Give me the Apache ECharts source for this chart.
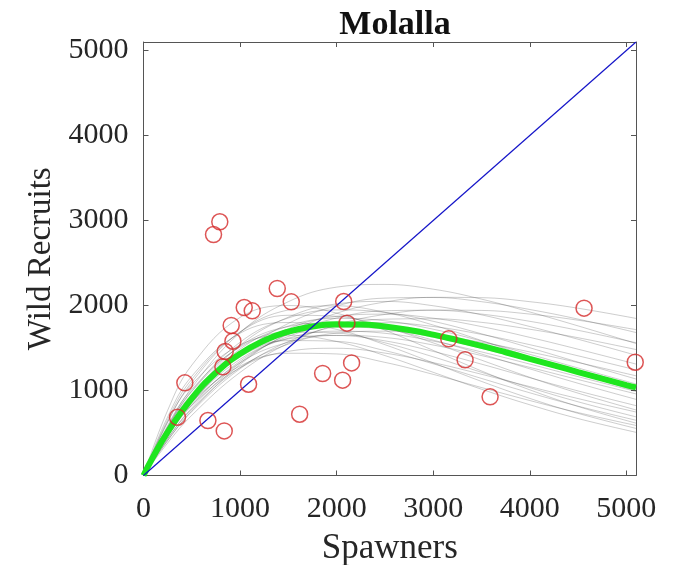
<!DOCTYPE html>
<html>
<head>
<meta charset="utf-8">
<title>Molalla</title>
<script src="https://cdn.jsdelivr.net/npm/echarts@6/dist/echarts.min.js"></script>
<style>
  html, body { margin: 0; padding: 0; background: #fff; }
  #chart { width: 680px; height: 565px; }
</style>
</head>
<body>
<div id="chart"></div>
<script>
// Observed spawner / wild recruit pairs
const spawners = [790, 725, 1385, 1530, 1043, 1126, 2073, 2107, 908, 926, 846, 822, 428, 1088,
  2155, 1855, 2062, 352, 667, 836, 1617, 4562, 3161, 3330, 3589, 5092];
const recruits = [2985, 2835, 2200, 2043, 1976, 1937, 2047, 1792, 1765, 1580, 1459, 1279, 1090, 1074,
  1325, 1200, 1122, 686, 647, 525, 721, 1969, 1608, 1361, 926, 1333];

// Best-fit stock-recruit curve
const fitS = [0, 100, 250, 500, 750, 1000, 1250, 1500, 1750, 2000, 2250, 2500, 2750, 3000,
  3250, 3500, 3750, 4000, 4250, 4500, 4750, 5000, 5100];
const fitR = [0, 220, 511, 908, 1209, 1431, 1588, 1693, 1753, 1778, 1777, 1752, 1711, 1657,
  1593, 1524, 1450, 1373, 1296, 1217, 1139, 1064, 1036];

// Posterior draws of the curve, evaluated on a common spawner grid
const drawS = [0, 250, 500, 1000, 1500, 2000, 2500, 3000, 3500, 4000, 4500, 5100];
const drawR = [
  [0, 632, 1071, 1535, 1650, 1576, 1411, 1214, 1015, 832, 670, 508],
  [0, 689, 1168, 1674, 1800, 1719, 1539, 1325, 1107, 907, 731, 554],
  [0, 766, 1298, 1860, 2000, 1910, 1710, 1472, 1230, 1008, 812, 616],
  [0, 656, 1132, 1687, 1885, 1873, 1744, 1560, 1357, 1155, 969, 771],
  [0, 587, 1013, 1510, 1686, 1676, 1561, 1396, 1214, 1034, 867, 690],
  [0, 552, 954, 1421, 1587, 1578, 1469, 1314, 1142, 973, 816, 650],
  [0, 500, 864, 1288, 1438, 1430, 1331, 1190, 1035, 882, 740, 589],
  [0, 518, 906, 1394, 1607, 1647, 1584, 1460, 1310, 1150, 995, 822],
  [0, 565, 988, 1521, 1753, 1796, 1728, 1593, 1429, 1255, 1085, 896],
  [0, 628, 1098, 1690, 1948, 1996, 1920, 1770, 1588, 1394, 1206, 996],
  [0, 471, 824, 1268, 1461, 1497, 1440, 1328, 1191, 1046, 905, 747],
  [0, 474, 842, 1327, 1568, 1648, 1624, 1535, 1411, 1272, 1129, 960],
  [0, 488, 867, 1367, 1615, 1698, 1673, 1581, 1454, 1311, 1163, 989],
  [0, 502, 893, 1407, 1663, 1748, 1722, 1628, 1496, 1349, 1197, 1019],
  [0, 531, 944, 1487, 1758, 1848, 1820, 1721, 1582, 1426, 1265, 1077],
  [0, 560, 995, 1568, 1853, 1948, 1919, 1814, 1667, 1503, 1334, 1135],
  [0, 434, 780, 1270, 1545, 1675, 1698, 1656, 1567, 1454, 1329, 1173],
  [0, 459, 826, 1345, 1636, 1773, 1798, 1753, 1660, 1539, 1408, 1242],
  [0, 485, 872, 1419, 1727, 1872, 1898, 1851, 1752, 1625, 1486, 1311],
  [0, 523, 941, 1531, 1863, 2019, 2048, 1997, 1890, 1753, 1603, 1415],
  [0, 574, 1033, 1681, 2045, 2216, 2248, 2192, 2075, 1924, 1760, 1553],
  [0, 411, 753, 1256, 1576, 1758, 1839, 1844, 1802, 1721, 1621, 1482],
  [0, 433, 794, 1324, 1661, 1853, 1938, 1944, 1899, 1814, 1708, 1562],
  [0, 466, 855, 1426, 1789, 1995, 2087, 2094, 2045, 1953, 1840, 1682],
  [0, 382, 708, 1213, 1556, 1773, 1895, 1946, 1942, 1899, 1827, 1716],
  [0, 412, 762, 1306, 1676, 1909, 2041, 2096, 2092, 2045, 1968, 1848]
];

// Replacement (1:1) line end points
const replS = [0, 5100];
const replR = [0, 5100];

// Axis tick labels
const tickValues = [0, 1000, 2000, 3000, 4000, 5000];
const axisMax = 5100;

const serif = '"Liberation Serif", "Times New Roman", serif';
const frameColor = '#555555';
const textColor = '#262626';

function zip(xs, ys) { return xs.map((x, i) => [x, ys[i]]); }

function valueAxis(pos, showLabels, margin, extra) {
  return Object.assign({
    type: 'value', position: pos, min: 0, max: axisMax, interval: 1000,
    axisLine: { show: true, onZero: false, lineStyle: { color: frameColor, width: 1 } },
    axisTick: { show: true, inside: true, length: 5, customValues: tickValues,
      lineStyle: { color: frameColor, width: 1 } },
    axisLabel: { show: showLabels, customValues: tickValues, fontFamily: serif, fontSize: 30,
      color: textColor, margin: margin, formatter: (v) => String(v) },
    splitLine: { show: false }
  }, extra || {});
}

const series = [];
drawR.forEach((r) => {
  series.push({
    type: 'line', data: zip(drawS, r), smooth: 0.4, symbol: 'none', silent: true,
    lineStyle: { color: 'rgba(60,60,60,0.26)', width: 1 }, z: 1
  });
});
series.push({
  type: 'line', data: zip(fitS, fitR), smooth: true, symbol: 'none',
  lineStyle: { color: '#1ee61e', width: 6 }, z: 3
});
series.push({
  type: 'line', data: zip(replS, replR), symbol: 'none',
  lineStyle: { color: '#1414c8', width: 1.2 }, z: 4
});
series.push({
  type: 'scatter', data: zip(spawners, recruits), symbol: 'circle', symbolSize: 16,
  itemStyle: { color: 'rgba(0,0,0,0)', borderColor: '#d42a2a', borderWidth: 1.5 }, z: 5
});

const chart = echarts.init(document.getElementById('chart'), null, { renderer: 'canvas' });
chart.setOption({
  animation: false,
  backgroundColor: '#ffffff',
  title: {
    text: 'Molalla', left: 390, top: 3, textAlign: 'center',
    textStyle: { fontFamily: serif, fontWeight: 'bold', fontSize: 34, color: '#111' }
  },
  grid: { left: 143.5, right: 44, top: 42, bottom: 89.5, containLabel: false, outerBoundsMode: 'none' },
  xAxis: [
    valueAxis('bottom', true, 19, {
      name: 'Spawners', nameLocation: 'middle', nameGap: 56,
      nameTextStyle: { fontFamily: serif, fontSize: 35, color: textColor }
    }),
    valueAxis('top', false, 8)
  ],
  yAxis: [
    valueAxis('left', true, 15, {
      name: 'Wild Recruits', nameLocation: 'middle', nameGap: 84,
      nameTextStyle: { fontFamily: serif, fontSize: 33, color: textColor }
    }),
    valueAxis('right', false, 8)
  ],
  series: series
});
</script>
</body>
</html>
